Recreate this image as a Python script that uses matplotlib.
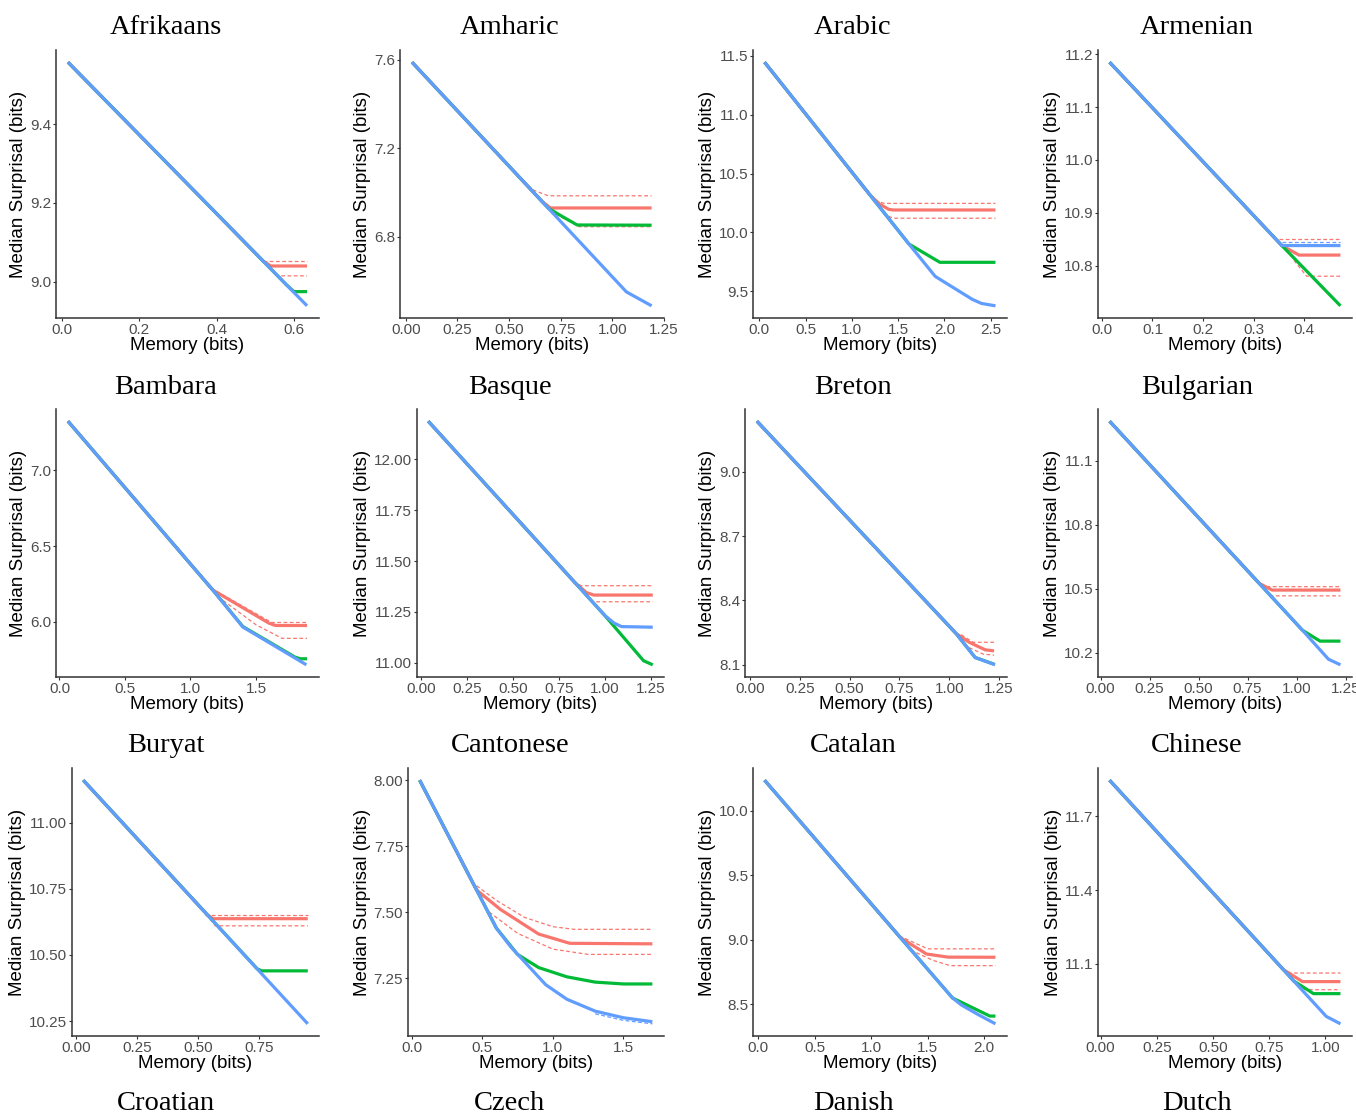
import matplotlib
matplotlib.use("Agg")
import matplotlib.pyplot as plt

RED = "#F8766D"
GREEN = "#00BA38"
BLUE = "#619CFF"

# ---- Afrikaans ----
afr_blue = [(0.016, 9.557), (0.634, 8.939)]
afr_red = [(0.016, 9.557), (0.52, 9.053), (0.54, 9.04), (0.634, 9.04)]
afr_green = [(0.016, 9.557), (0.58, 8.993), (0.60, 8.975), (0.634, 8.975)]
afr_red_hi = [(0.52, 9.053), (0.634, 9.053)]
afr_red_lo = [(0.542, 9.031), (0.558, 9.015), (0.634, 9.015)]
afr_xticks = ["0.0", "0.2", "0.4", "0.6"]
afr_yticks = ["9.0", "9.2", "9.4"]

# ---- Amharic ----
amh_blue = [(0.03, 7.59), (1.068, 6.55), (1.19, 6.487)]
amh_red = [(0.03, 7.59), (0.66, 6.959), (0.70, 6.93), (1.19, 6.93)]
amh_green = [(0.03, 7.59), (0.69, 6.929), (0.76, 6.89), (0.83, 6.853), (1.19, 6.852)]
amh_red_hi = [(0.57, 7.05), (0.62, 7.01), (0.69, 6.985), (1.19, 6.985)]
amh_red_lo = [(0.70, 6.915), (0.84, 6.845), (1.19, 6.845)]
amh_xticks = ["0.00", "0.25", "0.50", "0.75", "1.00", "1.25"]
amh_yticks = ["6.8", "7.2", "7.6"]

# ---- Arabic ----
ara_blue = [(0.058, 11.447), (1.617, 9.90), (1.9, 9.625), (2.3, 9.43), (2.4, 9.395), (2.55, 9.375)]
ara_red = [(0.058, 11.447), (1.2, 10.314), (1.3, 10.24), (1.4, 10.195), (1.45, 10.19), (2.55, 10.19)]
ara_green = [(0.058, 11.447), (1.617, 9.90), (1.95, 9.745), (2.55, 9.745)]
ara_red_hi = [(1.25, 10.27), (1.35, 10.246), (2.55, 10.246)]
ara_red_lo = [(1.3, 10.21), (1.38, 10.14), (1.45, 10.12), (2.55, 10.12)]
ara_xticks = ["0.0", "0.5", "1.0", "1.5", "2.0", "2.5"]
ara_yticks = ["9.5", "10.0", "10.5", "11.0", "11.5"]

# ---- Armenian ----
arm_blue = [(0.015, 11.185), (0.356, 10.838), (0.472, 10.838)]
arm_red = [(0.015, 11.185), (0.356, 10.838), (0.39, 10.82), (0.472, 10.82)]
arm_green = [(0.015, 11.185), (0.356, 10.838), (0.472, 10.724)]
arm_red_hi = [(0.35, 10.85), (0.472, 10.85)]
arm_red_lo = [(0.38, 10.81), (0.405, 10.78), (0.472, 10.78)]
arm_blue_hi = [(0.356, 10.845), (0.472, 10.845)]
arm_xticks = ["0.0", "0.1", "0.2", "0.3", "0.4"]
arm_yticks = ["10.8", "10.9", "11.0", "11.1", "11.2"]

# ---- Bambara ----
bam_blue = [(0.065, 7.326), (1.17, 6.21), (1.4, 5.965), (1.885, 5.715)]
bam_red = [(0.065, 7.326), (1.17, 6.21), (1.6, 5.99), (1.65, 5.975), (1.89, 5.975)]
bam_green = [(0.065, 7.326), (1.17, 6.21), (1.4, 5.968), (1.8, 5.765), (1.84, 5.755), (1.89, 5.755)]
bam_red_hi = [(1.2, 6.2), (1.62, 5.995), (1.89, 5.995)]
bam_red_lo = [(1.25, 6.14), (1.5, 5.98), (1.7, 5.89), (1.89, 5.89)]
bam_xticks = ["0.0", "0.5", "1.0", "1.5"]
bam_yticks = ["6.0", "6.5", "7.0"]

# ---- Basque ----
bas_blue = [(0.04, 12.188), (1.0, 11.232), (1.05, 11.195), (1.09, 11.178), (1.26, 11.175)]
bas_red = [(0.04, 12.188), (0.836, 11.395), (0.9, 11.345), (0.94, 11.333), (1.26, 11.333)]
bas_green = [(0.04, 12.188), (1.0, 11.232), (1.21, 11.01), (1.26, 10.99)]
bas_red_hi = [(0.83, 11.40), (0.87, 11.379), (1.26, 11.379)]
bas_red_lo = [(0.9, 11.33), (0.93, 11.30), (1.26, 11.30)]
bas_xticks = ["0.00", "0.25", "0.50", "0.75", "1.00", "1.25"]
bas_yticks = ["11.00", "11.25", "11.50", "11.75", "12.00"]

# ---- Breton ----
bre_blue = [(0.035, 9.235), (1.034, 8.246), (1.13, 8.134), (1.23, 8.10)]
bre_red = [(0.035, 9.235), (1.034, 8.246), (1.1, 8.205), (1.18, 8.17), (1.225, 8.165)]
bre_green = [(0.035, 9.235), (1.034, 8.246), (1.13, 8.134), (1.225, 8.103)]
bre_red_hi = [(1.06, 8.24), (1.12, 8.205), (1.225, 8.205)]
bre_red_lo = [(1.1, 8.18), (1.17, 8.15), (1.225, 8.145)]
bre_xticks = ["0.00", "0.25", "0.50", "0.75", "1.00", "1.25"]
bre_yticks = ["8.1", "8.4", "8.7", "9.0"]

# ---- Bulgarian ----
bul_blue = [(0.046, 11.285), (1.03, 10.306), (1.163, 10.17), (1.224, 10.144)]
bul_red = [(0.046, 11.285), (0.81, 10.525), (0.876, 10.494), (1.224, 10.494)]
bul_green = [(0.046, 11.285), (1.03, 10.306), (1.12, 10.255), (1.224, 10.255)]
bul_red_hi = [(0.77, 10.56), (0.84, 10.51), (1.224, 10.51)]
bul_red_lo = [(0.84, 10.49), (0.87, 10.467), (1.224, 10.467)]
bul_xticks = ["0.00", "0.25", "0.50", "0.75", "1.00", "1.25"]
bul_yticks = ["10.2", "10.5", "10.8", "11.1"]

# ---- Buryat ----
bur_blue = [(0.028, 11.16), (0.95, 10.24)]
bur_red = [(0.028, 11.16), (0.536, 10.653), (0.56, 10.637), (0.95, 10.637)]
bur_green = [(0.028, 11.16), (0.742, 10.448), (0.76, 10.44), (0.95, 10.44)]
bur_red_hi = [(0.53, 10.65), (0.95, 10.65)]
bur_red_lo = [(0.55, 10.635), (0.57, 10.61), (0.95, 10.61)]
bur_xticks = ["0.00", "0.25", "0.50", "0.75"]
bur_yticks = ["10.25", "10.50", "10.75", "11.00"]

# ---- Cantonese ----
can_blue = [(0.057, 8.0), (0.6, 7.44), (0.7, 7.37), (0.95, 7.225), (1.1, 7.17),
            (1.3, 7.125), (1.5, 7.1), (1.705, 7.085)]
can_red = [(0.057, 8.0), (0.46, 7.584), (0.63, 7.51), (0.9, 7.417), (1.12, 7.382), (1.705, 7.38)]
can_green = [(0.057, 8.0), (0.6, 7.44), (0.75, 7.34), (0.9, 7.29), (1.1, 7.255),
             (1.3, 7.235), (1.5, 7.228), (1.705, 7.228)]
can_red_hi = [(0.46, 7.6), (0.6, 7.545), (0.8, 7.48), (1.0, 7.445), (1.15, 7.435), (1.705, 7.435)]
can_red_lo = [(0.55, 7.5), (0.75, 7.42), (1.0, 7.36), (1.25, 7.34), (1.705, 7.34)]
can_blue_lo = [(1.3, 7.115), (1.5, 7.09), (1.705, 7.077)]
can_xticks = ["0.0", "0.5", "1.0", "1.5"]
can_yticks = ["7.25", "7.50", "7.75", "8.00"]

# ---- Catalan ----
cat_blue = [(0.057, 10.235), (1.72, 8.55), (1.8, 8.495), (1.95, 8.42), (2.1, 8.35)]
cat_red = [(0.057, 10.235), (1.26, 9.016), (1.49, 8.89), (1.68, 8.866), (2.1, 8.865)]
cat_green = [(0.057, 10.235), (1.72, 8.55), (2.05, 8.41), (2.1, 8.41)]
cat_red_hi = [(1.25, 9.03), (1.5, 8.93), (2.1, 8.93)]
cat_red_lo = [(1.35, 8.92), (1.55, 8.84), (1.7, 8.80), (2.1, 8.80)]
cat_xticks = ["0.0", "0.5", "1.0", "1.5", "2.0"]
cat_yticks = ["8.5", "9.0", "9.5", "10.0"]

# ---- Chinese ----
chi_blue = [(0.04, 11.848), (1.004, 10.885), (1.067, 10.855)]
chi_red = [(0.04, 11.848), (0.813, 11.076), (0.898, 11.027), (1.067, 11.027)]
chi_green = [(0.04, 11.848), (0.86, 11.029), (0.947, 10.978), (1.067, 10.978)]
chi_red_hi = [(0.81, 11.078), (0.84, 11.062), (1.067, 11.062)]
chi_red_lo = [(0.9, 11.0), (0.92, 10.994), (1.067, 10.994)]
chi_xticks = ["0.00", "0.25", "0.50", "0.75", "1.00"]
chi_yticks = ["11.1", "11.4", "11.7"]

bottom_titles = ["Croatian", "Czech", "Danish", "Dutch"]

panels = [
    ("Afrikaans", afr_red, afr_green, afr_blue, [(afr_red_hi, RED), (afr_red_lo, RED)], afr_xticks, afr_yticks),
    ("Amharic", amh_red, amh_green, amh_blue, [(amh_red_hi, RED), (amh_red_lo, RED)], amh_xticks, amh_yticks),
    ("Arabic", ara_red, ara_green, ara_blue, [(ara_red_hi, RED), (ara_red_lo, RED)], ara_xticks, ara_yticks),
    ("Armenian", arm_red, arm_green, arm_blue, [(arm_red_hi, RED), (arm_red_lo, RED), (arm_blue_hi, BLUE)], arm_xticks, arm_yticks),
    ("Bambara", bam_red, bam_green, bam_blue, [(bam_red_hi, RED), (bam_red_lo, RED)], bam_xticks, bam_yticks),
    ("Basque", bas_red, bas_green, bas_blue, [(bas_red_hi, RED), (bas_red_lo, RED)], bas_xticks, bas_yticks),
    ("Breton", bre_red, bre_green, bre_blue, [(bre_red_hi, RED), (bre_red_lo, RED)], bre_xticks, bre_yticks),
    ("Bulgarian", bul_red, bul_green, bul_blue, [(bul_red_hi, RED), (bul_red_lo, RED)], bul_xticks, bul_yticks),
    ("Buryat", bur_red, bur_green, bur_blue, [(bur_red_hi, RED), (bur_red_lo, RED)], bur_xticks, bur_yticks),
    ("Cantonese", can_red, can_green, can_blue, [(can_red_hi, RED), (can_red_lo, RED), (can_blue_lo, BLUE)], can_xticks, can_yticks),
    ("Catalan", cat_red, cat_green, cat_blue, [(cat_red_hi, RED), (cat_red_lo, RED)], cat_xticks, cat_yticks),
    ("Chinese", chi_red, chi_green, chi_blue, [(chi_red_hi, RED), (chi_red_lo, RED)], chi_xticks, chi_yticks),
]

# layout in pixels
W, H = 1356, 1116
col_right = [319, 664, 1007, 1352]
row_top = [50, 409, 768]
row_bottom = [318, 677, 1036]
panel_left = [56, 400, 753, 1098, 56, 417, 745, 1098, 72, 408, 753, 1098]
title_x = [166, 510, 853, 1197]
title_y = [28, 387, 746, 1104]

plt.rcParams["font.family"] = ["Liberation Sans", "DejaVu Sans"]
fig = plt.figure(figsize=(W / 100, H / 100), dpi=100)

for i, (name, red, green, blue, dashed, xt, yt) in enumerate(panels):
    r, c = divmod(i, 4)
    l, rt, t, b = panel_left[i], col_right[c], row_top[r], row_bottom[r]
    ax = fig.add_axes([l / W, 1 - b / H, (rt - l) / W, (b - t) / H])

    for pts, col in dashed:
        xs, ys = zip(*pts)
        ax.plot(xs, ys, color=col, lw=0.9, ls=(0, (3, 2)))
    for pts, col in ((red, RED), (green, GREEN), (blue, BLUE)):
        xs, ys = zip(*pts)
        ax.plot(xs, ys, color=col, lw=2.3, solid_capstyle="butt", solid_joinstyle="round")

    ax.set_xticks([float(v) for v in xt])
    ax.set_xticklabels(xt)
    ax.set_yticks([float(v) for v in yt])
    ax.set_yticklabels(yt)

    for s in ("top", "right"):
        ax.spines[s].set_visible(False)
    for s in ("left", "bottom"):
        ax.spines[s].set_color("#333333")
        ax.spines[s].set_linewidth(1.1)
    ax.tick_params(length=2, width=0.8, color="#333333", labelsize=11,
                   labelcolor="#4D4D4D", pad=1.5)
    ax.set_xlabel("Memory (bits)", fontsize=13.5, labelpad=0)
    ax.set_ylabel("Median Surprisal (bits)", fontsize=13.5, labelpad=2)

    fig.text(title_x[c] / W, 1 - title_y[r] / H, name, ha="center", va="center",
             family=["Liberation Serif", "DejaVu Serif"], fontsize=20.5)

for c, name in enumerate(bottom_titles):
    fig.text(title_x[c] / W, 1 - title_y[3] / H, name, ha="center", va="center",
             family=["Liberation Serif", "DejaVu Serif"], fontsize=20.5)

fig.savefig("out.png", dpi=100)
